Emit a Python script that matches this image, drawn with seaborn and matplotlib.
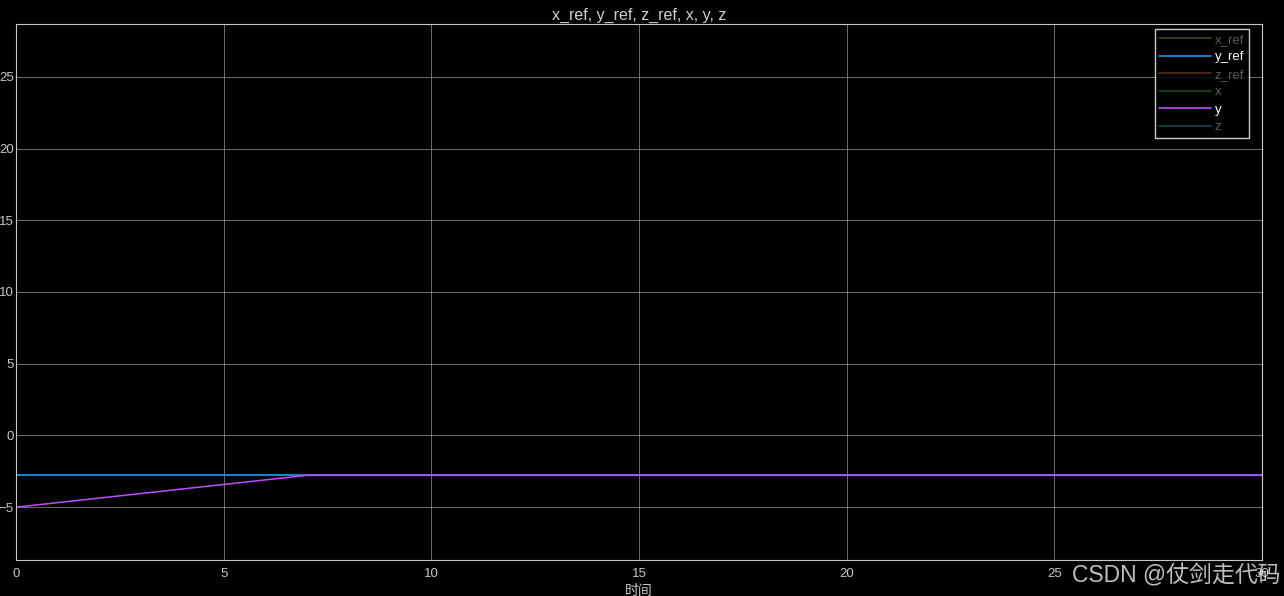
import pandas as pd
import seaborn as sns
import matplotlib.pyplot as plt
from matplotlib.lines import Line2D

# signal data (only y_ref and y are shown, the others are switched off in the scope)
t_ref = [0, 30]
y_ref = [-2.78, -2.78]
t_y = [0, 7.0, 30]
y_val = [-5.0, -2.78, -2.78]

names = ['x_ref', 'y_ref', 'z_ref', 'x', 'y', 'z']
colors = ['#4a4526', '#1f8fe6', '#5a2e1c', '#1f4a1f', '#c04cff', '#1d4448']
shown = [False, True, False, False, True, False]

sns.set_style('dark')
plt.rcParams['font.family'] = ['Liberation Sans', 'Noto Sans CJK SC', 'DejaVu Sans']

fig = plt.figure(figsize=(12.84, 5.96), dpi=100, facecolor='black')
ax = fig.add_axes([16/1284, 36/596, 1246/1284, 536/596])
ax.set_facecolor('black')

d1 = pd.DataFrame({'t': t_ref, 'v': y_ref})
d2 = pd.DataFrame({'t': t_y, 'v': y_val})
sns.lineplot(data=d1, x='t', y='v', color=colors[1], lw=1.3, ax=ax)
sns.lineplot(data=d2, x='t', y='v', color=colors[4], lw=1.1, ax=ax)

ax.set_xlim(0, 30)
ax.set_ylim(-8.68, 28.68)
ax.set_xticks(range(0, 31, 5))
ax.set_yticks(range(-5, 26, 5))
ax.grid(True, color='#8c8c8c', lw=0.6, alpha=0.9)
ax.tick_params(colors='#c8c8c8', labelsize=9.5, length=0)
ax.tick_params(axis='y', pad=1.5)
ax.tick_params(axis='x', pad=6)
for s in ax.spines.values():
    s.set_color('#c8c8c8')
    s.set_linewidth(0.8)
ax.set_xlabel('时间', color='#c8c8c8', fontsize=10, labelpad=3)
ax.set_ylabel('')
ax.set_title('x_ref, y_ref, z_ref, x, y, z', color='#d0d0d0', fontsize=11.5, pad=3)

handles = [Line2D([0], [0], color=c, lw=1.2) for c in colors]
leg = ax.legend(handles, names, loc='upper right', bbox_to_anchor=(0.9895, 0.991),
                borderaxespad=0, fontsize=9.5, frameon=True, fancybox=False,
                facecolor='black', edgecolor='white', handlelength=3.9,
                handletextpad=0.3, labelspacing=0.4, borderpad=0.35)
leg.get_frame().set_linewidth(1)
for txt, on in zip(leg.get_texts(), shown):
    txt.set_color('white' if on else '#5a5a5a')

fig.text(0.997, 0.015, 'CSDN @仗剑走代码', ha='right', va='bottom',
         color='#e0e0e0', alpha=0.85, fontsize=16.5)

fig.savefig('out.png', facecolor='black')
